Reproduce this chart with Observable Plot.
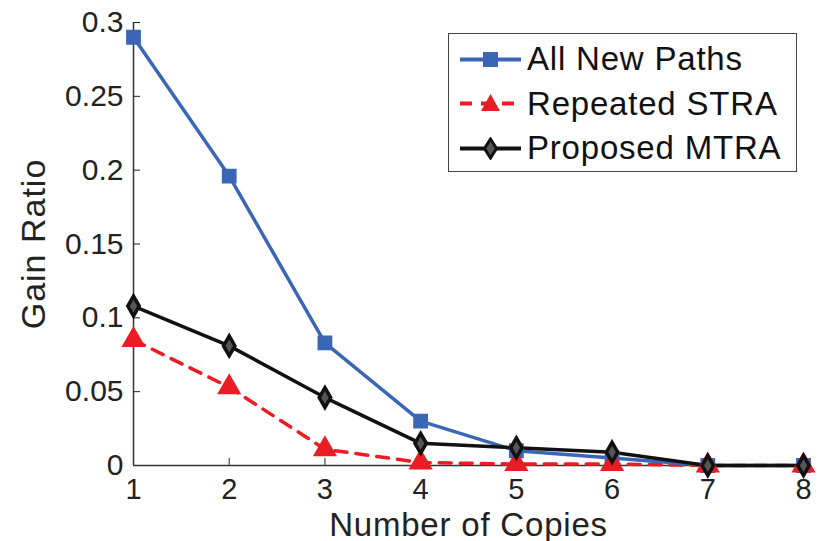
<!DOCTYPE html>
<html>
<head>
<meta charset="utf-8">
<script src="https://cdn.jsdelivr.net/npm/d3@7"></script>
<script src="https://cdn.jsdelivr.net/npm/@observablehq/plot@0.6"></script>
<style>
  html, body { margin: 0; padding: 0; background: #fff; }
  #wrap { position: relative; width: 822px; height: 541px; font-family: "Liberation Sans", Arial, sans-serif; }
  #wrap svg g[aria-label="x-axis label"] text { letter-spacing: 0.8px; }
  #wrap svg g[aria-label="y-axis label"] text { letter-spacing: 1px; }
  #legend { position: absolute; left: 448px; top: 33px; width: 349px; height: 139px; border: 1.5px solid #444; background: #fff; box-sizing: border-box; }
  .row { position: absolute; left: 0; height: 44px; display: flex; align-items: center; }
  .row span { font-size: 33px; letter-spacing: 0.8px; color: #111; margin-left: 6px; }
</style>
</head>
<body>
<div id="wrap"></div>
<script>
const copies = [1, 2, 3, 4, 5, 6, 7, 8];
const seriesNames = ["All New Paths", "Repeated STRA", "Proposed MTRA"];
const allNewPaths = [0.290, 0.196, 0.083, 0.030, 0.010, 0.005, 0.000, 0.000];
const repeatedSTRA = [0.085, 0.053, 0.011, 0.002, 0.001, 0.001, 0.000, 0.000];
const proposedMTRA = [0.108, 0.081, 0.046, 0.015, 0.012, 0.009, 0.000, 0.000];
const xTicks = [1, 2, 3, 4, 5, 6, 7, 8];
const yTicks = [0, 0.05, 0.1, 0.15, 0.2, 0.25, 0.3];
const colors = ["#3a66b5", "#ec1c24", "#111111"];

const seriesValues = [allNewPaths, repeatedSTRA, proposedMTRA];
const data = seriesNames.flatMap((s, i) => copies.map((c, j) => ({series: s, x: c, y: seriesValues[i][j]})));
const bySeries = s => data.filter(d => d.series === s);

const plot = Plot.plot({
  width: 822,
  height: 541,
  marginLeft: 133,
  marginRight: 19,
  marginTop: 22,
  marginBottom: 76,
  style: {fontFamily: "Liberation Sans, Arial, sans-serif", fontSize: "30px", color: "#222", background: "white"},
  x: {domain: [1, 8]},
  y: {domain: [0, 0.3]},
  marks: [
    Plot.axisX({ticks: xTicks, tickFormat: d => String(d), tickSize: -7, tickPadding: 20, fontSize: 29, label: null}),
    Plot.axisX({ticks: [], label: "Number of Copies", labelAnchor: "center", labelArrow: "none", labelOffset: 70, fontSize: 33}),
    Plot.axisY({ticks: yTicks, tickFormat: d => String(d), tickSize: -7, tickPadding: 17, fontSize: 30, label: null}),
    Plot.axisY({ticks: [], label: "Gain Ratio", labelAnchor: "center", labelArrow: "none", labelOffset: 113, fontSize: 34}),
    Plot.ruleY([0], {stroke: "#333", strokeWidth: 1.5}),
    Plot.ruleX([1], {stroke: "#333", strokeWidth: 1.5}),
    Plot.line(bySeries(seriesNames[1]), {x: "x", y: "y", stroke: colors[1], strokeWidth: 3.5, strokeDasharray: "12,9"}),
    Plot.line(bySeries(seriesNames[0]), {x: "x", y: "y", stroke: colors[0], strokeWidth: 3.5}),
    Plot.line(bySeries(seriesNames[2]), {x: "x", y: "y", stroke: colors[2], strokeWidth: 3.5}),
    Plot.dot(bySeries(seriesNames[0]), {x: "x", y: "y", symbol: "square", r: 7.5, fill: colors[0], stroke: colors[0]}),
    Plot.dot(bySeries(seriesNames[1]), {x: "x", y: "y", symbol: "triangle", r: 8, fill: colors[1], stroke: colors[1]}),
    Plot.dot(bySeries(seriesNames[2]), {x: "x", y: "y", symbol: "diamond", r: 6, fill: "#555", stroke: colors[2], strokeWidth: 3.5})
  ]
});
document.getElementById("wrap").appendChild(plot);

// legend overlay
const legend = document.createElement("div");
legend.id = "legend";
const symbols = [
  '<rect x="23" y="4" width="15" height="15" fill="' + colors[0] + '"/>',
  '<polygon points="30.5,2 40,19 21,19" fill="' + colors[1] + '"/>',
  '<polygon points="30.5,2 36.5,11.5 30.5,21 24.5,11.5" fill="#555" stroke="' + colors[2] + '" stroke-width="3"/>'
];
const dash = ["", 'stroke-dasharray="12,9"', ""];
seriesNames.forEach((name, i) => {
  const row = document.createElement("div");
  row.className = "row";
  row.style.top = (3 + i * 44.5) + "px";
  row.style.left = "11px";
  row.innerHTML = '<svg width="61" height="23"><line x1="0" y1="11.5" x2="61" y2="11.5" stroke="' + colors[i] + '" stroke-width="4" ' + dash[i] + '/>' + symbols[i] + '</svg><span>' + name + '</span>';
  legend.appendChild(row);
});
document.getElementById("wrap").appendChild(legend);
</script>
</body>
</html>
